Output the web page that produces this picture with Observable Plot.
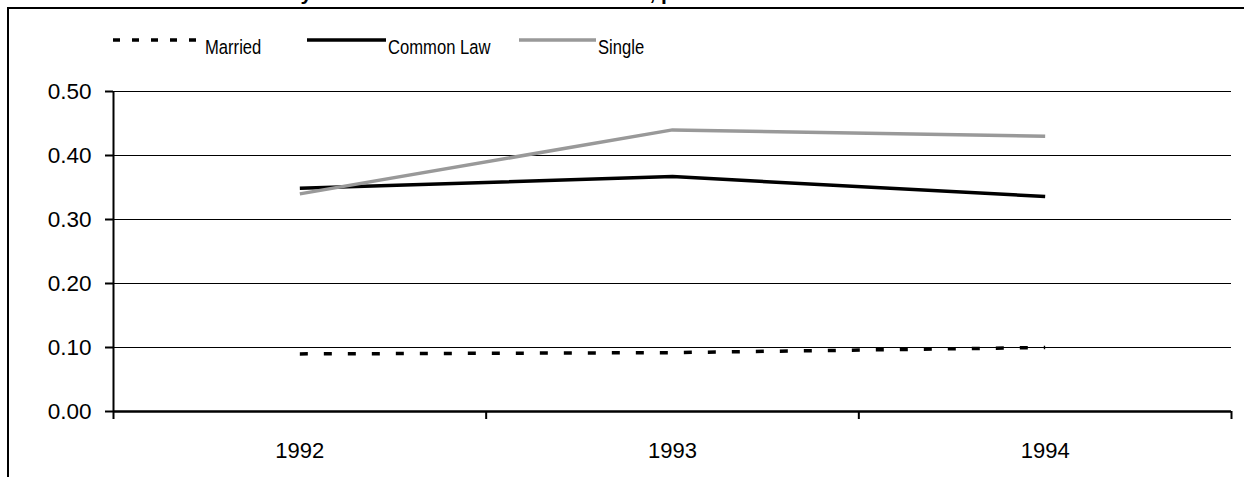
<!DOCTYPE html>
<html>
<head>
<meta charset="utf-8">
<script src="https://cdn.jsdelivr.net/npm/d3@7"></script>
<script src="https://cdn.jsdelivr.net/npm/@observablehq/plot@0.6"></script>
<style>
  html, body { margin: 0; padding: 0; background: #fff; }
  #wrap { position: relative; width: 1244px; height: 477px; overflow: hidden; font-family: "Liberation Sans", Arial, sans-serif; color: #000; }
  #frame { position: absolute; left: 7px; top: 7px; width: 1400px; height: 700px; border: 2px solid #000; box-sizing: border-box; }
  #title { position: absolute; left: 192px; top: -18px; font-size: 21px; font-weight: bold; white-space: nowrap; line-height: 21px; }
  #chart { position: absolute; left: 0; top: 0; }
  #legend { position: absolute; left: 0; top: 0; width: 1244px; height: 80px; }
  .swatch { position: absolute; top: 36px; display: block; }
  .name { position: absolute; top: 35px; font-size: 20.5px; line-height: 23px; white-space: nowrap; transform: scaleX(0.81); transform-origin: 0 50%; }
</style>
</head>
<body>
<div id="wrap">
  <div id="frame"></div>
  <div id="title">Exit Rate by Marital Status of the Lone Mother, parents</div>
  <div id="chart"></div>
  <div id="legend"></div>
</div>
<script>
// Categories and series values
const years = [1992, 1993, 1994];
const married = [0.09, 0.092, 0.10];
const commonLaw = [0.349, 0.367, 0.336];
const single = [0.34, 0.44, 0.43];
const seriesNames = ["Married", "Common Law", "Single"];
const yTicks = [0, 0.1, 0.2, 0.3, 0.4, 0.5];

// Category slots are one unit wide, centred on each year
const boundaries = years.map(y => y - 0.5).concat([years[years.length - 1] + 0.5]);

const seriesStyles = {
  "Married": {stroke: "#000", strokeWidth: 3.5, strokeDasharray: "8,16"},
  "Common Law": {stroke: "#000", strokeWidth: 3.5},
  "Single": {stroke: "#999", strokeWidth: 3.5}
};

const seriesValues = [married, commonLaw, single];
const rows = seriesNames.map((name, i) => years.map((year, j) => ({series: name, year, value: seriesValues[i][j]})));

const chart = Plot.plot({
  width: 1244,
  height: 477,
  marginLeft: 113,
  marginRight: 13,
  marginTop: 91,
  marginBottom: 66,
  style: {fontFamily: "'Liberation Sans', Arial, sans-serif", fontSize: "22px", color: "#000", background: "transparent", overflow: "visible"},
  x: {type: "linear", domain: [boundaries[0], boundaries[boundaries.length - 1]], label: null},
  y: {domain: [0, 0.5], label: null},
  marks: [
    Plot.ruleY(yTicks.filter(v => v > 0), {stroke: "#000", strokeWidth: 1}),
    ...rows.map((data, i) => Plot.line(data, {x: "year", y: "value", ...seriesStyles[seriesNames[i]], strokeLinecap: "butt"})),
    Plot.ruleX([boundaries[0]], {stroke: "#000", strokeWidth: 2}),
    Plot.ruleY([0], {stroke: "#000", strokeWidth: 2.5}),
    Plot.axisY(yTicks, {tickSize: 8, tickPadding: 14, strokeWidth: 2, tickFormat: d => d.toFixed(2), fontSize: 22.5, label: null}),
    Plot.axisX(boundaries, {tickSize: 8, strokeWidth: 2, tickFormat: () => "", label: null}),
    Plot.axisX(years, {tickSize: 0, tickPadding: 31, tickFormat: d => String(d), fontSize: 22, label: null})
  ]
});
document.getElementById("chart").appendChild(chart);

// Legend: line swatch followed by series name, laid out left to right
const legend = d3.select("#legend");
const legendLayout = {
  "Married": {swatchX: 113, swatchW: 92, textX: 205, dash: "7,12"},
  "Common Law": {swatchX: 307, swatchW: 79, textX: 388},
  "Single": {swatchX: 519, swatchW: 77, textX: 598}
};
for (const name of seriesNames) {
  const st = seriesStyles[name];
  const lay = legendLayout[name];
  const svg = legend.append("svg").attr("class", "swatch")
    .style("left", lay.swatchX + "px")
    .attr("width", lay.swatchW).attr("height", 8);
  svg.append("line")
    .attr("x1", 0).attr("x2", lay.swatchW)
    .attr("y1", 4).attr("y2", 4)
    .attr("stroke", st.stroke)
    .attr("stroke-width", st.strokeWidth)
    .attr("stroke-dasharray", lay.dash || null);
  legend.append("div").attr("class", "name").style("left", lay.textX + "px").text(name);
}
</script>
</body>
</html>
